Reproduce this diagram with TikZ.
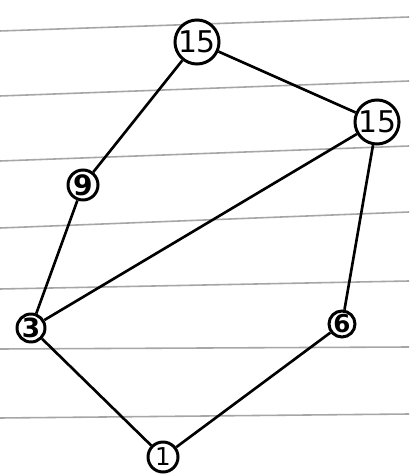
\documentclass[tikz,border=0pt]{standalone}
\usepackage{fontspec}
\setmainfont{DejaVu Sans}
\begin{document}
\begin{tikzpicture}[x=0.02cm,y=-0.02cm,
  rule/.style={draw=black!35,line width=0.9pt},
  vtx/.style={circle,draw=black,line width=1.7pt,inner sep=0pt,fill=white},
  edge/.style={draw=black,line width=1.5pt}]
\useasboundingbox[fill=white] (0,0) rectangle (409,475);
% ruled paper lines
\draw[rule] (0,31) -- (409,17);
\draw[rule] (0,96) -- (409,81);
\draw[rule] (0,161) -- (409,146);
\draw[rule] (0,228) -- (409,212);
\draw[rule] (0,289) -- (409,281);
\draw[rule] (0,349) -- (409,347);
\draw[rule] (0,418) -- (409,414);
% vertices
\node[vtx,minimum size=0.72cm,font=\fontsize{17}{17}\selectfont] (a) at (197,42) {15};
\node[vtx,minimum size=0.80cm,font=\fontsize{17}{17}\selectfont] (b) at (377,122) {15};
\node[vtx,minimum size=0.60cm,font=\fontsize{16}{16}\selectfont\bfseries] (c) at (83,185) {9};
\node[vtx,minimum size=0.56cm,font=\fontsize{15}{15}\selectfont\bfseries] (d) at (31,328) {3};
\node[vtx,minimum size=0.52cm,font=\fontsize{14}{14}\selectfont\bfseries] (e) at (342,324) {6};
\node[vtx,minimum size=0.60cm,font=\fontsize{14}{14}\selectfont] (f) at (163,457) {1};
% edges
\draw[edge] (a) -- (b);
\draw[edge] (a) -- (c);
\draw[edge] (c) -- (d);
\draw[edge] (d) -- (b);
\draw[edge] (b) -- (e);
\draw[edge] (e) -- (f);
\draw[edge] (d) -- (f);
\end{tikzpicture}
\end{document}
